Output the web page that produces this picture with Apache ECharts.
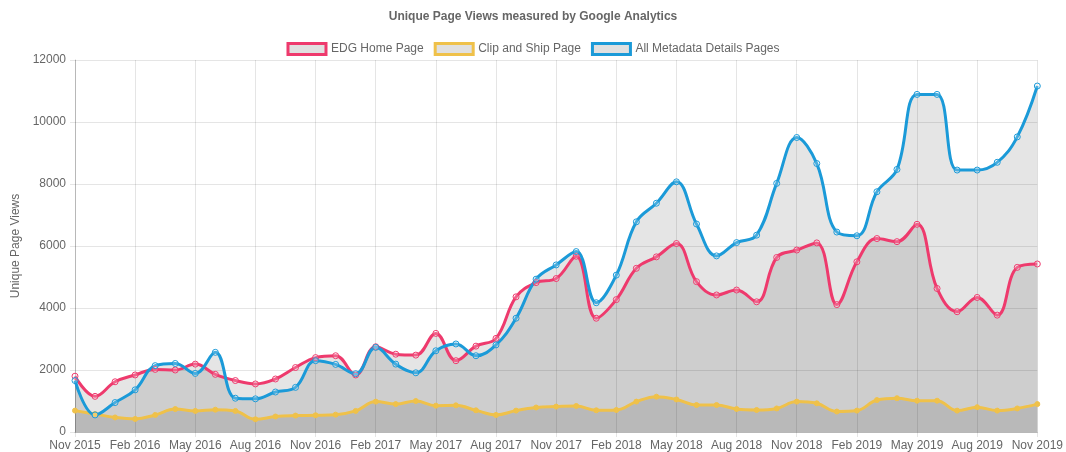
<!DOCTYPE html>
<html>
<head>
<meta charset="utf-8">
<script src="https://cdn.jsdelivr.net/npm/echarts@6/dist/echarts.min.js"></script>
<style>
  html, body { margin: 0; padding: 0; background: #fff; }
  #chart { width: 1066px; height: 452px; }
</style>
</head>
<body>
<div id="chart"></div>
<script>
const months = [
  "Nov 2015", "Dec 2015", "Jan 2016", "Feb 2016", "Mar 2016", "Apr 2016", "May 2016",
  "Jun 2016", "Jul 2016", "Aug 2016", "Sep 2016", "Oct 2016", "Nov 2016", "Dec 2016",
  "Jan 2017", "Feb 2017", "Mar 2017", "Apr 2017", "May 2017", "Jun 2017", "Jul 2017",
  "Aug 2017", "Sep 2017", "Oct 2017", "Nov 2017", "Dec 2017", "Jan 2018", "Feb 2018",
  "Mar 2018", "Apr 2018", "May 2018", "Jun 2018", "Jul 2018", "Aug 2018", "Sep 2018",
  "Oct 2018", "Nov 2018", "Dec 2018", "Jan 2019", "Feb 2019", "Mar 2019", "Apr 2019",
  "May 2019", "Jun 2019", "Jul 2019", "Aug 2019", "Sep 2019", "Oct 2019", "Nov 2019"
];

const edgHome = [
  1800, 1150, 1620, 1840, 2020, 2000, 2190, 1860, 1660, 1550, 1710, 2080, 2400, 2460, 1840,
  2750, 2510, 2480, 3180, 2300, 2770, 3020, 4360, 4820, 4950, 5670, 3670, 4270,
  5280, 5650, 6080, 4850, 4420, 4580, 4200, 5630, 5870, 6100, 4110,
  5490, 6240, 6140, 6700, 4630, 3880, 4340, 3770, 5310, 5420
];

const clipShip = [
  690, 580, 470, 420, 550, 740, 680, 720, 680, 410, 500, 530, 540, 560, 680,
  980, 900, 1000, 850, 860, 700, 550, 690, 790, 820, 840, 700, 710,
  980, 1140, 1050, 870, 870, 740, 710, 760, 980, 925, 660,
  690, 1030, 1090, 1010, 1010, 690, 800, 690, 760, 900
];

const metadataPages = [
  1660, 550, 950, 1360, 2140, 2210, 1890, 2570, 1090, 1070, 1290, 1440, 2300, 2180, 1880,
  2730, 2190, 1910, 2620, 2840, 2460, 2810, 3670, 4930, 5390, 5820, 4170, 5060,
  6780, 7380, 8070, 6710, 5680, 6110, 6350, 8020, 9500, 8660, 6450,
  6330, 7750, 8470, 10890, 10890, 8450, 8450, 8700, 9520, 11160
];

const pink = "#ee3a6d";
const yellow = "#efc14a";
const blue = "#1b9ad8";
const gridColor = "rgba(0,0,0,0.1)";
const font = "'Liberation Sans', Arial, sans-serif";

function makeSeries(name, data, color, hollow) {
  return {
    name: name,
    type: "line",
    data: data,
    smooth: 0.4,
    symbol: "circle",
    symbolSize: hollow ? 6 : 5,
    showSymbol: true,
    lineStyle: { color: color, width: 3 },
    itemStyle: hollow
      ? { color: "rgba(255,255,255,0.2)", borderColor: color, borderWidth: 1 }
      : { color: color, borderColor: color, borderWidth: 1 },
    areaStyle: { color: "rgba(0,0,0,0.1)", opacity: 1, origin: "start" },
    emphasis: { disabled: true },
  };
}

const chart = echarts.init(document.getElementById("chart"));

chart.setOption({
  animation: false,
  title: {
    text: "Unique Page Views measured by Google Analytics",
    left: "center",
    top: 6,
    textStyle: { fontFamily: font, fontSize: 12, fontWeight: "bold", color: "#666" },
  },
  legend: {
    top: 37,
    left: "center",
    itemWidth: 38,
    itemHeight: 11,
    itemGap: 10,
    icon: "rect",
    textStyle: { fontFamily: font, fontSize: 12, color: "#666" },
    data: [
      { name: "EDG Home Page", itemStyle: { color: "#e0e0e0", borderColor: pink, borderWidth: 3 } },
      { name: "Clip and Ship Page", itemStyle: { color: "#e0e0e0", borderColor: yellow, borderWidth: 3 } },
      { name: "All Metadata Details Pages", itemStyle: { color: "#e0e0e0", borderColor: blue, borderWidth: 3 } },
    ],
  },
  grid: { left: 75, right: 26, top: 60, bottom: 20 },
  xAxis: {
    type: "category",
    data: months,
    boundaryGap: false,
    axisLine: { lineStyle: { color: "rgba(0,0,0,0.2)" } },
    axisTick: { show: true, interval: 2, length: 5, lineStyle: { color: gridColor } },
    axisLabel: { interval: 2, color: "#666", fontFamily: font, fontSize: 12, margin: 8 },
    splitLine: { show: true, interval: 2, lineStyle: { color: gridColor } },
  },
  yAxis: {
    type: "value",
    min: 0,
    max: 12000,
    interval: 2000,
    name: "Unique Page Views",
    nameLocation: "middle",
    nameRotate: 90,
    nameGap: 51,
    nameTextStyle: { fontFamily: font, fontSize: 12, color: "#666" },
    axisLine: { show: true, lineStyle: { color: "rgba(0,0,0,0.2)" } },
    axisTick: { show: true, length: 5, lineStyle: { color: gridColor } },
    axisLabel: { color: "#666", fontFamily: font, fontSize: 12, margin: 9, formatter: (v) => String(v) },
    splitLine: { show: true, lineStyle: { color: gridColor } },
  },
  series: [
    makeSeries("EDG Home Page", edgHome, pink, true),
    makeSeries("Clip and Ship Page", clipShip, yellow, false),
    makeSeries("All Metadata Details Pages", metadataPages, blue, true),
  ],
});
</script>
</body>
</html>
